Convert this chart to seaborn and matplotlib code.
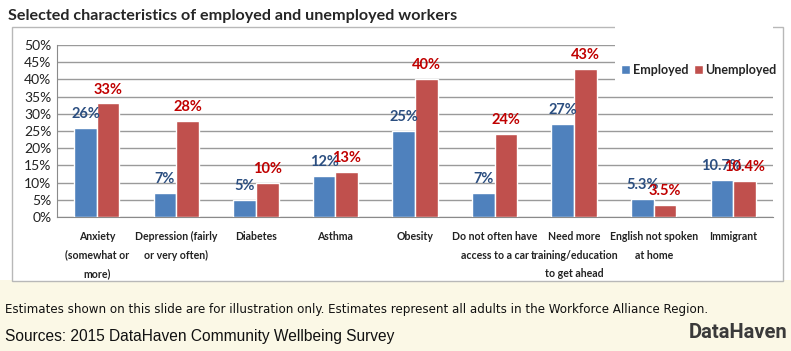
import matplotlib
matplotlib.use("Agg")
import matplotlib.pyplot as plt
import seaborn as sns
import pandas as pd
import numpy as np
from matplotlib.patches import Rectangle

categories = ["Anxiety\n(somewhat or\nmore)", "Depression (fairly\nor very often)", "Diabetes", "Asthma",
              "Obesity", "Do not often have\naccess to a car", "Need more\ntraining/education\nto get ahead",
              "English not spoken\nat home", "Immigrant"]
employed = [26, 7, 5, 12, 25, 7, 27, 5.3, 10.7]
unemployed = [33, 28, 10, 13, 40, 24, 43, 3.5, 10.4]
employed_labels = ["26%", "7%", "5%", "12%", "25%", "7%", "27%", "5.3%", "10.7%"]
unemployed_labels = ["33%", "28%", "10%", "13%", "40%", "24%", "43%", "3.5%", "10.4%"]
series = ["Employed", "Unemployed"]
yticks = [0, 5, 10, 15, 20, 25, 30, 35, 40, 45, 50]

sns.set_style("white")
plt.rcParams['font.family'] = ['Lato', 'DejaVu Sans']

df = pd.DataFrame({
    "category": categories * 2,
    "value": employed + unemployed,
    "series": [series[0]] * len(categories) + [series[1]] * len(categories),
})

fig = plt.figure(figsize=(7.91, 3.51), dpi=100)
# background panels
fig.patches.append(Rectangle((0, 0), 1, 1 - 280 / 351, transform=fig.transFigure,
                             facecolor="#FBF8E6", edgecolor="none", zorder=-2))
fig.patches.append(Rectangle((12 / 791, 1 - 281 / 351), (783 - 12) / 791, (281 - 27) / 351,
                             transform=fig.transFigure, facecolor="white",
                             edgecolor="#B8B8B8", linewidth=1.0, zorder=-1))

ax = fig.add_axes([57 / 791, 1 - 217 / 351, (773 - 57) / 791, (217 - 45) / 351])
ax.set_facecolor("none")
palette = {"Employed": "#4F81BD", "Unemployed": "#C0504D"}
sns.barplot(data=df, x="category", y="value", hue="series", palette=palette,
            width=0.57, saturation=1, ax=ax, legend=True, zorder=3)

ax.set_ylim(0, 50)
ax.set_xlim(-0.5, len(categories) - 0.5)
ax.set_yticks(yticks)
ax.set_yticklabels([f"{v}%" for v in yticks], fontsize=10, color="#222222")
ax.yaxis.grid(True, color="#9A9A9A", linewidth=1.0, zorder=0)
ax.set_axisbelow(True)
ax.set_xlabel("")
ax.set_ylabel("")
for s in ["top", "right"]:
    ax.spines[s].set_visible(False)
ax.spines["left"].set_color("#8A8A8A")
ax.spines["bottom"].set_color("#8A8A8A")
ax.tick_params(axis="y", length=3, color="#8A8A8A", pad=1)
ax.set_xticks(range(len(categories)))
ax.set_xticklabels(categories, fontsize=7.6, fontweight="bold", color="#222222", linespacing=1.85,
                   va="top")
ax.tick_params(axis="x", length=0, pad=10)
ax.set_xticks(np.arange(-0.5, len(categories), 1), minor=True)
ax.tick_params(axis="x", which="minor", length=4, color="#8A8A8A")

# white box behind legend
ax.add_patch(Rectangle(((615 - 57) / 716, (217 - 90) / 172), 1 - (615 - 57) / 716, 1.0,
                       transform=ax.transAxes, facecolor="white", edgecolor="none",
                       zorder=1, clip_on=False))

# data labels
for container, labels, col in zip(ax.containers, [employed_labels, unemployed_labels],
                                  ["#2B4E80", "#C00000"]):
    ax.bar_label(container, labels=labels, padding=5, fontsize=10.5, fontweight="bold",
                 color=col, zorder=5)

leg = ax.legend(loc="center", bbox_to_anchor=((699 - 57) / 716, (217 - 70) / 172),
                ncol=2, frameon=False, handlelength=0.7, handleheight=0.7,
                handletextpad=0.2, columnspacing=0.5, prop={"weight": "bold", "size": 9})

fig.text(8 / 791, 1 - 16 / 351, "Selected characteristics of employed and unemployed workers",
         fontsize=11.6, fontweight="bold", color="#262626", va="center", ha="left")
fig.text(5 / 791, 1 - 310 / 351,
         "Estimates shown on this slide are for illustration only. Estimates represent all adults in the Workforce Alliance Region.",
         fontsize=8.6, color="#111111", va="center", ha="left", family=["DejaVu Sans"])
fig.text(5 / 791, 1 - 337 / 351, "Sources: 2015 DataHaven Community Wellbeing Survey",
         fontsize=11.2, color="#111111", va="center", ha="left",
         family=["Liberation Sans", "DejaVu Sans"])
fig.text(787 / 791, 1 - 333 / 351, "DataHaven", fontsize=14.5, fontweight="bold",
         color="#3A3A3A", va="center", ha="right", family=["Roboto", "DejaVu Sans"])

fig.savefig("out.png", dpi=100)
